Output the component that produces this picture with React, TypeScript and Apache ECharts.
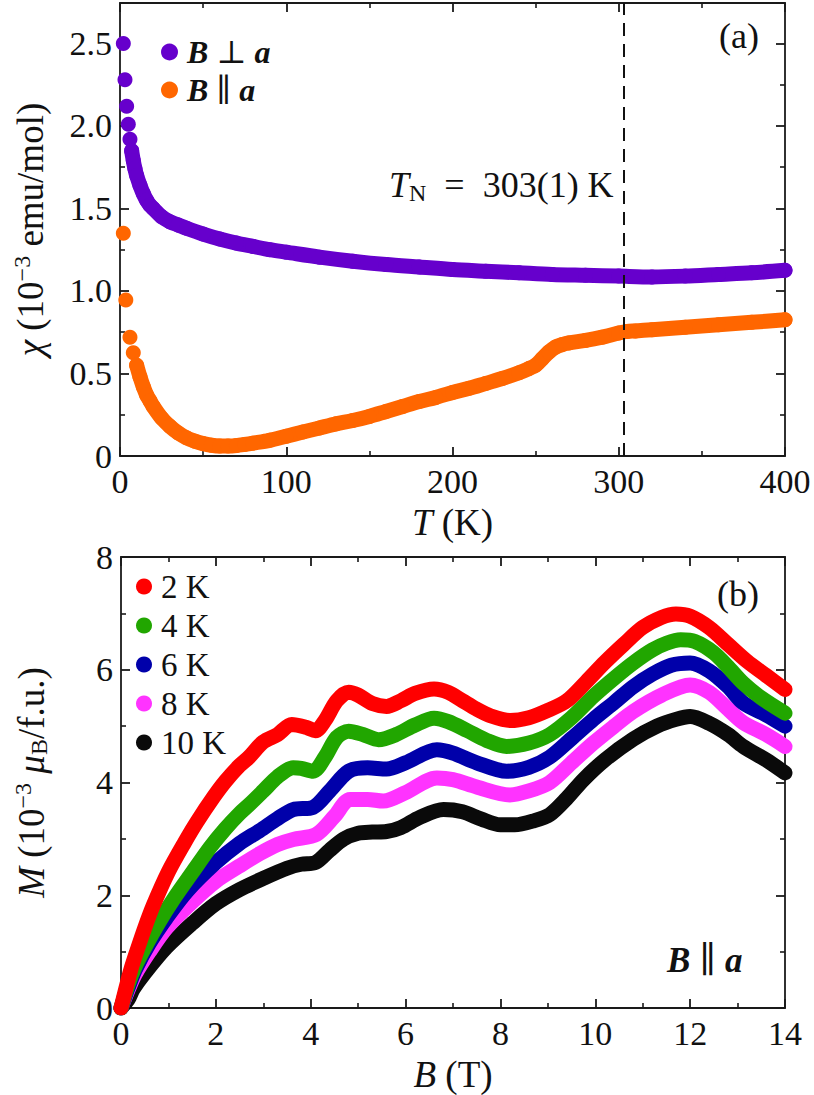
import React, { useEffect, useRef } from 'react';
import * as echarts from 'echarts';

// ---------- panel (a): susceptibility vs temperature ----------
const perpT = [2, 3, 4, 5, 6, 7, 8, 9, 10, 12, 14, 16, 18, 20, 25, 30, 35, 40, 50, 60, 70, 80, 90, 100, 120, 140, 160, 180, 200, 220, 240, 260, 280, 300, 320, 340, 360, 380, 400];
const perpChi = [2.50, 2.28, 2.12, 2.01, 1.92, 1.85, 1.79, 1.74, 1.70, 1.64, 1.59, 1.55, 1.52, 1.50, 1.45, 1.42, 1.40, 1.38, 1.345, 1.315, 1.29, 1.27, 1.25, 1.235, 1.205, 1.18, 1.16, 1.145, 1.13, 1.12, 1.11, 1.10, 1.095, 1.09, 1.085, 1.09, 1.10, 1.11, 1.125];

const parT = [2, 3.5, 6, 8, 10, 12, 14, 16, 18, 20, 25, 30, 35, 40, 45, 50, 55, 60, 65, 70, 75, 80, 90, 100, 110, 120, 130, 140, 150, 160, 170, 180, 190, 200, 210, 220, 230, 240, 246, 250, 254, 258, 262, 266, 270, 280, 290, 300, 305, 310, 320, 340, 360, 380, 400];
const parChi = [1.35, 0.945, 0.72, 0.625, 0.55, 0.48, 0.42, 0.37, 0.335, 0.30, 0.23, 0.18, 0.14, 0.11, 0.09, 0.075, 0.065, 0.06, 0.06, 0.063, 0.07, 0.078, 0.095, 0.12, 0.145, 0.17, 0.195, 0.215, 0.24, 0.27, 0.30, 0.33, 0.355, 0.385, 0.41, 0.44, 0.47, 0.505, 0.53, 0.55, 0.59, 0.63, 0.66, 0.675, 0.685, 0.70, 0.72, 0.745, 0.755, 0.758, 0.765, 0.78, 0.795, 0.81, 0.825];

const TN = 303;

// ---------- panel (b): magnetization vs field ----------
const B2 = [0, 0.1, 0.2, 0.33, 0.5, 0.68, 1.0, 1.35, 1.6, 1.95, 2.2, 2.5, 2.7, 3.0, 3.3, 3.6, 3.9, 4.1, 4.3, 4.55, 4.8, 5.0, 5.3, 5.6, 5.9, 6.2, 6.6, 6.9, 7.2, 7.5, 7.8, 8.2, 8.6, 9.0, 9.4, 9.8, 10.2, 10.6, 11.0, 11.4, 11.7, 12.0, 12.4, 12.8, 13.2, 13.6, 14.0];
const M2 = [0, 0.34, 0.66, 1.0, 1.42, 1.82, 2.42, 2.95, 3.3, 3.74, 4.02, 4.3, 4.45, 4.72, 4.85, 5.03, 4.98, 4.92, 5.1, 5.45, 5.6, 5.55, 5.4, 5.35, 5.45, 5.58, 5.66, 5.6, 5.45, 5.3, 5.18, 5.1, 5.15, 5.28, 5.45, 5.78, 6.13, 6.45, 6.75, 6.93, 6.99, 6.95, 6.75, 6.45, 6.15, 5.9, 5.65];

const B4 = [0, 0.15, 0.3, 0.5, 0.8, 1.14, 1.5, 1.88, 2.2, 2.5, 2.72, 3.0, 3.3, 3.63, 3.8, 4.05, 4.3, 4.55, 4.8, 5.1, 5.43, 5.8, 6.2, 6.6, 6.9, 7.3, 7.7, 8.13, 8.6, 9.04, 9.5, 9.96, 10.4, 10.8, 11.2, 11.5, 11.8, 12.1, 12.5, 12.8, 13.12, 13.5, 14];
const M4 = [0, 0.42, 0.74, 1.07, 1.52, 1.97, 2.4, 2.85, 3.18, 3.45, 3.62, 3.85, 4.1, 4.26, 4.25, 4.2, 4.45, 4.8, 4.91, 4.85, 4.76, 4.85, 5.02, 5.14, 5.08, 4.92, 4.75, 4.64, 4.7, 4.85, 5.15, 5.53, 5.85, 6.12, 6.35, 6.47, 6.53, 6.5, 6.3, 6.05, 5.76, 5.5, 5.23];

const B6 = [0, 0.15, 0.3, 0.6, 0.96, 1.4, 2.0, 2.5, 2.93, 3.3, 3.63, 4.05, 4.4, 4.8, 5.2, 5.6, 6.0, 6.66, 7.0, 7.5, 8.13, 8.6, 9.04, 9.5, 9.96, 10.4, 10.8, 11.2, 11.6, 12.0, 12.4, 12.8, 13.12, 13.6, 14];
const M6 = [0, 0.36, 0.68, 1.15, 1.6, 2.08, 2.58, 2.92, 3.15, 3.36, 3.52, 3.56, 3.85, 4.2, 4.26, 4.24, 4.35, 4.58, 4.52, 4.35, 4.2, 4.27, 4.45, 4.78, 5.12, 5.42, 5.7, 5.92, 6.08, 6.12, 5.98, 5.7, 5.41, 5.2, 5.0];

const B8 = [0, 0.15, 0.3, 0.6, 0.96, 1.5, 2.0, 2.5, 2.93, 3.3, 3.63, 4.12, 4.5, 4.83, 5.2, 5.53, 6.0, 6.66, 7.0, 7.5, 8.2, 8.6, 9.04, 9.5, 9.96, 10.4, 10.8, 11.4, 12.0, 12.4, 12.8, 13.12, 13.6, 14];
const M8 = [0, 0.32, 0.6, 1.0, 1.42, 1.88, 2.25, 2.52, 2.74, 2.9, 2.99, 3.08, 3.4, 3.7, 3.7, 3.67, 3.82, 4.08, 4.05, 3.92, 3.78, 3.85, 4.0, 4.35, 4.7, 5.0, 5.26, 5.55, 5.73, 5.6, 5.3, 5.06, 4.85, 4.64];

const B10 = [0, 0.15, 0.26, 0.5, 0.96, 1.5, 2.0, 2.5, 3.0, 3.5, 3.8, 4.1, 4.4, 4.7, 5.0, 5.3, 5.6, 5.9, 6.3, 6.8, 7.2, 7.6, 8.0, 8.3, 8.7, 9.04, 9.4, 9.75, 10.2, 10.8, 11.3, 11.7, 12.0, 12.4, 12.8, 13.12, 13.6, 14];
const M10 = [0, 0.15, 0.34, 0.62, 1.08, 1.5, 1.85, 2.1, 2.3, 2.48, 2.55, 2.58, 2.8, 3.0, 3.1, 3.12, 3.13, 3.2, 3.38, 3.52, 3.48, 3.35, 3.25, 3.25, 3.32, 3.43, 3.72, 4.05, 4.4, 4.77, 5.0, 5.12, 5.17, 5.05, 4.85, 4.64, 4.4, 4.17];

const tempLabels = ['2 K', '4 K', '6 K', '8 K', '10 K'];
const tempColors = ['#ff0000', '#21a600', '#0000aa', '#ff33ff', '#0a0a0a'];

const SERIF = '"Liberation Serif", "DejaVu Serif", serif';
const INK = '#111111';

function zip(xs: number[], ys: number[]) {
  return xs.map((x, i) => [x, ys[i]]);
}

export default function App() {
  const ref = useRef<HTMLDivElement>(null);

  useEffect(() => {
    if (!ref.current) return;
    const chart = echarts.init(ref.current, null, { renderer: 'svg' });

    const axisLine = { show: true, onZero: false, lineStyle: { color: '#1a1a1a', width: 1.8 } };
    const axisTick = { show: true, inside: true, length: 9, lineStyle: { color: '#1a1a1a', width: 1.8 } };
    const minorTick = { show: true, splitNumber: 2, length: 5, lineStyle: { color: '#1a1a1a', width: 1.6 } };
    const axisLabel = { show: true, color: INK, fontFamily: SERIF, fontSize: 34, margin: 8 };
    const noLabel = { show: false };
    const TF = 37;
    const nameStyleBase = {
      color: INK,
      fontFamily: SERIF,
      fontSize: TF,
      lineHeight: 40,
      rich: {
        i: { fontStyle: 'italic', fontFamily: SERIF, fontSize: TF, color: INK, lineHeight: 40 },
        sup: { fontFamily: SERIF, fontSize: 24, color: INK, verticalAlign: 'top', lineHeight: 40 },
        sub: { fontFamily: SERIF, fontSize: 24, color: INK, verticalAlign: 'bottom', lineHeight: 32 },
      },
    };

    const T_MAX = 2.745;

    const topX = {
      type: 'value', min: 0, max: 400, interval: 100,
      axisLine, axisTick, minorTick, splitLine: { show: false },
    };
    const topY = {
      type: 'value', min: 0, max: T_MAX, interval: 0.5,
      axisLine, axisTick, minorTick, splitLine: { show: false },
    };
    const botX = {
      type: 'value', min: 0, max: 14, interval: 2,
      axisLine, axisTick, minorTick, splitLine: { show: false },
    };
    const botY = {
      type: 'value', min: 0, max: 8, interval: 2,
      axisLine, axisTick, minorTick, splitLine: { show: false },
    };

    const band = (color: string) => ({
      color,
      width: 15,
      cap: 'round',
      join: 'round',
    });

    const bottomSeries = [
      { name: '10 K', B: B10, M: M10, c: tempColors[4] },
      { name: '8 K', B: B8, M: M8, c: tempColors[3] },
      { name: '6 K', B: B6, M: M6, c: tempColors[2] },
      { name: '4 K', B: B4, M: M4, c: tempColors[1] },
      { name: '2 K', B: B2, M: M2, c: tempColors[0] },
    ].map((s) => ({
      name: s.name,
      type: 'line',
      xAxisIndex: 2,
      yAxisIndex: 2,
      data: zip(s.B, s.M),
      symbol: 'none',
      showSymbol: false,
      smooth: 0.3,
      color: s.c,
      itemStyle: { color: s.c },
      lineStyle: band(s.c),
      z: 3,
    }));

    const option: any = {
      animation: false,
      backgroundColor: '#ffffff',
      textStyle: { fontFamily: SERIF },
      grid: [
        { left: 120, top: 3, width: 665, height: 453 },
        { left: 121, top: 557, width: 664, height: 452 },
      ],
      xAxis: [
        {
          ...topX, gridIndex: 0, position: 'bottom', axisLabel,
          name: '{i|T} (K)', nameLocation: 'middle', nameGap: 46,
          nameTextStyle: nameStyleBase,
        },
        { ...topX, gridIndex: 0, position: 'top', axisLabel: noLabel },
        {
          ...botX, gridIndex: 1, position: 'bottom', axisLabel,
          name: '{i|B} (T)', nameLocation: 'middle', nameGap: 46,
          nameTextStyle: nameStyleBase,
        },
        { ...botX, gridIndex: 1, position: 'top', axisLabel: noLabel },
      ],
      yAxis: [
        {
          ...topY, gridIndex: 0, position: 'left',
          axisLabel: {
            ...axisLabel,
            showMaxLabel: false,
            formatter: (v: number) => (v === 0 ? '0' : v.toFixed(1)),
          },
          name: '{i|χ} (10{sup|−3} emu/mol)', nameLocation: 'middle', nameGap: 70,
          nameTextStyle: nameStyleBase,
        },
        { ...topY, gridIndex: 0, position: 'right', axisLabel: noLabel },
        {
          ...botY, gridIndex: 1, position: 'left', axisLabel,
          name: '{i|M} (10{sup|−3} {i|μ}{sub|B}/f.u.)', nameLocation: 'middle', nameGap: 70,
          nameTextStyle: nameStyleBase,
        },
        { ...botY, gridIndex: 1, position: 'right', axisLabel: noLabel },
      ],
      legend: [
        {
          data: ['B⊥a', 'B∥a'],
          orient: 'vertical',
          left: 156,
          top: 31,
          icon: 'circle',
          itemWidth: 17,
          itemHeight: 17,
          itemGap: 6,
          formatter: (name: string) => (name === 'B⊥a' ? '{i|B} ⊥ {i|a}' : '{i|B} ∥ {i|a}'),
          textStyle: {
            color: INK, fontFamily: SERIF, fontSize: 32, lineHeight: 32,
            padding: [0, 0, 0, 4],
            rich: {
              i: { fontStyle: 'italic', fontWeight: 'bold', fontFamily: SERIF, fontSize: 32, color: INK, lineHeight: 32 },
            },
          },
        },
        {
          data: tempLabels,
          orient: 'vertical',
          left: 131,
          top: 565,
          icon: 'circle',
          itemWidth: 16,
          itemHeight: 16,
          itemGap: 6,
          textStyle: { color: INK, fontFamily: SERIF, fontSize: 33, lineHeight: 30, padding: [0, 0, 0, 4] },
        },
      ],
      series: [
        {
          name: 'B⊥a',
          type: 'scatter',
          xAxisIndex: 0,
          yAxisIndex: 0,
          data: zip(perpT, perpChi),
          symbol: 'circle',
          symbolSize: 15,
          itemStyle: { color: '#6600cc', opacity: 1 },
          z: 3,
          markLine: {
            silent: true,
            symbol: 'none',
            label: { show: false },
            lineStyle: { color: '#111', width: 2, type: [13, 8] },
            data: [{ xAxis: TN }],
            z: 5,
          },
        },
        {
          name: 'perp-band',
          type: 'line',
          xAxisIndex: 0,
          yAxisIndex: 0,
          data: zip(perpT.slice(5), perpChi.slice(5)),
          symbol: 'none',
          showSymbol: false,
          smooth: 0.3,
          lineStyle: band('#6600cc'),
          itemStyle: { color: '#6600cc' },
          z: 3,
        },
        {
          name: 'B∥a',
          type: 'scatter',
          xAxisIndex: 0,
          yAxisIndex: 0,
          data: zip(parT, parChi),
          symbol: 'circle',
          symbolSize: 15,
          itemStyle: { color: '#ff6600', opacity: 1 },
          z: 3,
        },
        {
          name: 'par-band',
          type: 'line',
          xAxisIndex: 0,
          yAxisIndex: 0,
          data: zip(parT.slice(4), parChi.slice(4)),
          symbol: 'none',
          showSymbol: false,
          smooth: 0.3,
          lineStyle: band('#ff6600'),
          itemStyle: { color: '#ff6600' },
          z: 3,
        },
        ...bottomSeries,
      ],
      graphic: [
        {
          type: 'text', left: 719, top: 18, z: 10,
          style: { text: '(a)', fontFamily: SERIF, fontSize: 36, fill: INK },
        },
        {
          type: 'text', left: 717, top: 576, z: 10,
          style: { text: '(b)', fontFamily: SERIF, fontSize: 36, fill: INK },
        },
        {
          type: 'text', left: 389, top: 165, z: 10,
          style: {
            text: '{i|T}{sub|N}  =  303(1) K',
            fontFamily: SERIF, fontSize: 36, fill: INK, lineHeight: 40,
            rich: {
              i: { fontStyle: 'italic', fontFamily: SERIF, fontSize: 36, fill: INK, lineHeight: 40 },
              sub: { fontFamily: SERIF, fontSize: 24, fill: INK, verticalAlign: 'bottom', lineHeight: 32 },
            },
          },
        },
        {
          type: 'text', left: 667, top: 942, z: 10,
          style: {
            text: '{i|B} ∥ {i|a}',
            fontFamily: SERIF, fontSize: 36, fill: INK,
            rich: {
              i: { fontStyle: 'italic', fontWeight: 'bold', fontFamily: SERIF, fontSize: 35, fill: INK },
            },
          },
        },
      ],
    };

    chart.setOption(option);
    return () => {
      chart.dispose();
    };
  }, []);

  return (
    <div
      ref={ref}
      style={{ position: 'absolute', left: 0, top: 0, width: 814, height: 1095, background: '#fff' }}
    />
  );
}
